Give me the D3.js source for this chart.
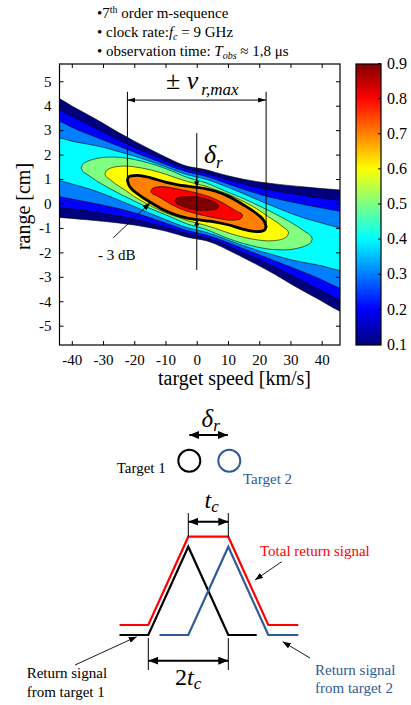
<!DOCTYPE html>
<html>
<head>
<meta charset="utf-8">
<script src="https://cdn.jsdelivr.net/npm/d3@7"></script>
<style>
  html, body { margin: 0; padding: 0; background: #fff; }
  svg { display: block; font-family: "Liberation Serif", "Times New Roman", serif; }
</style>
</head>
<body>
<svg id="chart" width="411" height="705"></svg>
<script>
// ---------- data ----------
const speedTicks = [-40, -30, -20, -10, 0, 10, 20, 30, 40];
const rangeTicks = [-5, -4, -3, -2, -1, 0, 1, 2, 3, 4, 5];
const colorTicks = [0.1, 0.2, 0.3, 0.4, 0.5, 0.6, 0.7, 0.8, 0.9];

// contour cross sections: for each speed [km/s], upper and lower range [cm] of the level
const bandSpeeds = [-47, -44, -40, -35, -30, -25, -20, -15, -10, -6, -3, 0, 3, 6, 10, 15, 20, 25, 30, 35, 40, 44, 47];
const top01 = [4.47, 4.29, 3.99, 3.64, 3.28, 2.9, 2.55, 2.22, 1.9, 1.66, 1.52, 1.45, 1.38, 1.27, 1.13, 0.99, 0.88, 0.8, 0.73, 0.67, 0.61, 0.57, 0.54];
const bottom01 = [-0.54, -0.57, -0.61, -0.67, -0.73, -0.8, -0.88, -0.99, -1.13, -1.27, -1.38, -1.45, -1.52, -1.66, -1.9, -2.22, -2.55, -2.9, -3.28, -3.64, -3.99, -4.29, -4.47];
const top02 = [4.0, 3.84, 3.57, 3.24, 2.92, 2.6, 2.3, 2.02, 1.74, 1.53, 1.4, 1.32, 1.24, 1.12, 0.97, 0.8, 0.64, 0.52, 0.41, 0.31, 0.22, 0.16, 0.12];
const bottom02 = [-0.12, -0.16, -0.22, -0.31, -0.41, -0.52, -0.64, -0.8, -0.97, -1.12, -1.24, -1.32, -1.4, -1.53, -1.74, -2.02, -2.3, -2.6, -2.92, -3.24, -3.57, -3.84, -4.0];
const top03 = [3.52, 3.37, 3.12, 2.85, 2.6, 2.35, 2.1, 1.85, 1.6, 1.41, 1.29, 1.2, 1.11, 0.98, 0.8, 0.58, 0.38, 0.21, 0.07, -0.06, -0.18, -0.28, -0.34];
const bottom03 = [0.34, 0.28, 0.18, 0.06, -0.07, -0.21, -0.38, -0.58, -0.8, -0.98, -1.11, -1.2, -1.29, -1.41, -1.6, -1.85, -2.1, -2.35, -2.6, -2.85, -3.12, -3.37, -3.52];
const top04 = [2.78, 2.69, 2.55, 2.43, 2.3, 2.12, 1.94, 1.73, 1.5, 1.3, 1.18, 1.08, 0.99, 0.86, 0.66, 0.4, 0.12, -0.14, -0.4, -0.62, -0.8, -0.94, -1.02];
const bottom04 = [1.02, 0.94, 0.8, 0.62, 0.4, 0.14, -0.12, -0.4, -0.66, -0.86, -0.99, -1.08, -1.18, -1.3, -1.5, -1.73, -1.94, -2.12, -2.3, -2.43, -2.55, -2.69, -2.78];

const speeds05 = [-37, -36.5, -35, -32, -28, -24, -20, -15, -10, -6, -3, 0, 3, 6, 10, 15, 20, 24, 28, 32, 35, 36.5, 37];
const top05 = [1.45, 1.6, 1.72, 1.84, 1.9, 1.88, 1.8, 1.64, 1.43, 1.22, 1.06, 0.95, 0.84, 0.68, 0.46, 0.2, -0.1, -0.35, -0.62, -0.92, -1.18, -1.32, -1.45];
const bottom05 = [1.45, 1.32, 1.18, 0.92, 0.62, 0.35, 0.1, -0.2, -0.46, -0.68, -0.84, -0.95, -1.06, -1.22, -1.43, -1.64, -1.8, -1.88, -1.9, -1.84, -1.72, -1.6, -1.45];

const speeds06 = [-29.4, -29, -28, -26, -23, -20, -15, -10, -6, -3, 0, 3, 6, 10, 15, 20, 23, 26, 28, 29, 29.4];
const top06 = [1.2, 1.33, 1.42, 1.5, 1.53, 1.5, 1.38, 1.2, 1.02, 0.9, 0.8, 0.7, 0.56, 0.38, 0.08, -0.28, -0.55, -0.8, -1.0, -1.1, -1.2];
const bottom06 = [1.2, 1.1, 1.0, 0.8, 0.55, 0.28, -0.08, -0.38, -0.56, -0.7, -0.8, -0.9, -1.02, -1.2, -1.38, -1.5, -1.53, -1.5, -1.42, -1.33, -1.2];

// -3 dB contour
const speeds07 = [-22.2, -21.8, -21, -19, -15, -10, -6, -3, 0, 3, 6, 10, 15, 19, 21, 21.8, 22.2];
const top07 = [0.95, 1.08, 1.13, 1.15, 1.06, 0.87, 0.76, 0.71, 0.66, 0.6, 0.5, 0.3, -0.06, -0.4, -0.62, -0.78, -0.95];
const bottom07 = [0.95, 0.78, 0.62, 0.4, 0.06, -0.3, -0.5, -0.6, -0.66, -0.71, -0.76, -0.87, -1.06, -1.15, -1.13, -1.08, -0.95];

const speeds08 = [-14.7, -14.3, -13, -11, -8, -4, 0, 4, 8, 11, 13, 14.3, 14.7];
const top08 = [0.48, 0.6, 0.67, 0.69, 0.64, 0.54, 0.43, 0.28, 0.05, -0.18, -0.33, -0.41, -0.48];
const bottom08 = [0.48, 0.41, 0.33, 0.18, -0.05, -0.28, -0.43, -0.54, -0.64, -0.69, -0.67, -0.6, -0.48];

const speeds09 = [-7, -6.6, -5.3, -3, 0, 3, 5.3, 6.6, 7];
const top09 = [0.1, 0.2, 0.26, 0.28, 0.27, 0.18, 0.08, -0.02, -0.1];
const bottom09 = [0.1, 0.02, -0.08, -0.18, -0.27, -0.28, -0.26, -0.2, -0.1];

const vrMax = 22.2;          // km/s, ends of the -3 dB contour

// schematic: time in chip durations t_c, amplitude normalised
const echo1Time = [-0.72, 0, 1, 2, 2.71];
const echo1Amp = [0, 0, 1, 0, 0];
const echo2Time = [0.28, 1, 2, 3, 3.75];
const echo2Amp = [0, 0, 1, 0, 0];
const totalTime = [-0.72, 0, 1, 2, 3, 3.75];
const totalAmp = [0, 0, 1, 1, 0, 0];
const targetPos = [1, 2];

const contours = [
    { level: 0.1, speed: bandSpeeds, top: top01, bottom: bottom01 },
    { level: 0.2, speed: bandSpeeds, top: top02, bottom: bottom02 },
    { level: 0.3, speed: bandSpeeds, top: top03, bottom: bottom03 },
    { level: 0.4, speed: bandSpeeds, top: top04, bottom: bottom04 },
    { level: 0.5, speed: speeds05, top: top05, bottom: bottom05 },
    { level: 0.6, speed: speeds06, top: top06, bottom: bottom06 },
    { level: 0.7, speed: speeds07, top: top07, bottom: bottom07 },
    { level: 0.8, speed: speeds08, top: top08, bottom: bottom08 },
    { level: 0.9, speed: speeds09, top: top09, bottom: bottom09 }
];

// ---------- setup ----------
const svg = d3.select("#chart");
const plot = { left: 59.5, top: 64, right: 340, bottom: 345 };
const blue = "#2f5b96";

const x = d3.scaleLinear().domain([-43.94, 45.86]).range([plot.left, plot.right]);
const y = d3.scaleLinear().domain([-5.79, 5.706]).range([plot.bottom, plot.top]);

// MATLAB jet colormap over [0.1, 0.9]
const jet = d3.scaleLinear()
    .domain([0, 0.125, 0.375, 0.625, 0.875, 1])
    .range(["#00007f", "#0000ff", "#00ffff", "#ffff00", "#ff0000", "#7f0000"])
    .clamp(true);
const colorOf = v => jet((v - 0.1) / 0.8);

const defs = svg.append("defs");
function addArrow(id, len, wid) {
    defs.append("marker")
        .attr("id", id)
        .attr("viewBox", "0 0 10 10")
        .attr("refX", 10)
        .attr("refY", 5)
        .attr("markerWidth", len)
        .attr("markerHeight", wid)
        .attr("markerUnits", "userSpaceOnUse")
        .attr("preserveAspectRatio", "none")
        .attr("orient", "auto-start-reverse")
        .append("path")
        .attr("d", "M0,0L10,5L0,10Z")
        .attr("fill", "#000");
}
addArrow("arrS", 6, 5);
addArrow("arrM", 8, 5);
addArrow("arrL", 10, 8);
addArrow("arrP", 8, 6);

defs.append("clipPath").attr("id", "plotClip")
    .append("rect")
    .attr("x", plot.left).attr("y", plot.top)
    .attr("width", plot.right - plot.left).attr("height", plot.bottom - plot.top);

// ---------- header notes ----------
const notes = svg.append("g").attr("font-size", 15).attr("fill", "#000");
const n1 = notes.append("text").attr("x", 97).attr("y", 17.5);
n1.append("tspan").text("\u20227");
n1.append("tspan").attr("font-size", 10).attr("dy", -5).text("th");
n1.append("tspan").attr("dy", 5).text(" order m-sequence");
const n2 = notes.append("text").attr("x", 97).attr("y", 37);
n2.append("tspan").text("\u2022 clock rate:");
n2.append("tspan").attr("font-style", "italic").text("f");
n2.append("tspan").attr("font-style", "italic").attr("font-size", 10).attr("dy", 3).text("c");
n2.append("tspan").attr("dy", -3).text(" = 9 GHz");
const n3 = notes.append("text").attr("x", 97).attr("y", 56);
n3.append("tspan").text("\u2022 observation time: ");
n3.append("tspan").attr("font-style", "italic").text("T");
n3.append("tspan").attr("font-style", "italic").attr("font-size", 10).attr("dy", 3).text("obs");
n3.append("tspan").attr("dy", -3).text(" \u2248 1,8 \u03bcs");

// ---------- contour plot ----------
const area = d3.area()
    .x(d => x(d.s))
    .y0(d => y(d.b))
    .y1(d => y(d.t))
    .curve(d3.curveMonotoneX);
const rows = c => c.speed.map((s, i) => ({ s: s, t: c.top[i], b: c.bottom[i] }));

const field = svg.append("g").attr("clip-path", "url(#plotClip)");
field.selectAll("path.fill")
    .data(contours)
    .join("path")
    .attr("class", "fill")
    .attr("d", c => area(rows(c)))
    .attr("fill", c => colorOf(c.level))
    .attr("stroke", "none");
field.selectAll("path.line")
    .data(contours)
    .join("path")
    .attr("class", "line")
    .attr("d", c => area(rows(c)))
    .attr("fill", "none")
    .attr("stroke", "#000")
    .attr("stroke-width", c => c.level === 0.7 ? 2.8 : 0.6);

// axes (ticks inside, MATLAB style)
const fmt = d => String(d);
const styleAxis = g => {
    g.select(".domain").remove();
    g.selectAll("line").attr("stroke", "#000");
    g.selectAll("text").attr("font-family", "Liberation Serif").attr("font-size", 15).attr("fill", "#000");
};
svg.append("g")
    .attr("transform", `translate(0,${plot.bottom})`)
    .call(d3.axisBottom(x).tickValues(speedTicks).tickFormat(fmt).tickSizeInner(-4).tickSizeOuter(0).tickPadding(9))
    .call(styleAxis);
svg.append("g")
    .attr("transform", `translate(0,${plot.top})`)
    .call(d3.axisTop(x).tickValues(speedTicks).tickFormat("").tickSizeInner(-4).tickSizeOuter(0))
    .call(styleAxis);
svg.append("g")
    .attr("transform", `translate(${plot.left},0)`)
    .call(d3.axisLeft(y).tickValues(rangeTicks).tickFormat(fmt).tickSizeInner(-4).tickSizeOuter(0).tickPadding(8))
    .call(styleAxis);
svg.append("g")
    .attr("transform", `translate(${plot.right},0)`)
    .call(d3.axisRight(y).tickValues(rangeTicks).tickFormat("").tickSizeInner(-4).tickSizeOuter(0))
    .call(styleAxis);

svg.append("rect")
    .attr("x", plot.left).attr("y", plot.top)
    .attr("width", plot.right - plot.left).attr("height", plot.bottom - plot.top)
    .attr("fill", "none").attr("stroke", "#000").attr("stroke-width", 1.2);

svg.append("text")
    .attr("x", 234.5).attr("y", 385)
    .attr("text-anchor", "middle").attr("font-size", 20)
    .text("target speed [km/s]");
svg.append("text")
    .attr("transform", `translate(29.5,${(plot.top + plot.bottom) / 2 + 2}) rotate(-90)`)
    .attr("text-anchor", "middle").attr("font-size", 20)
    .text("range [cm]");

// colorbar
const cb = d3.scaleLinear().domain([0.1, 0.9]).range([344, 63]);
const grad = defs.append("linearGradient").attr("id", "jetGrad")
    .attr("x1", 0).attr("y1", 1).attr("x2", 0).attr("y2", 0);
d3.range(0, 1.0001, 0.025).forEach(o => {
    grad.append("stop")
        .attr("offset", o)
        .attr("stop-color", colorOf(cb.invert(plot.bottom - o * (plot.bottom - plot.top))));
});
svg.append("rect")
    .attr("x", 356).attr("y", plot.top).attr("width", 25).attr("height", plot.bottom - plot.top)
    .attr("fill", "url(#jetGrad)").attr("stroke", "#000").attr("stroke-width", 1.2);
svg.append("g")
    .attr("transform", "translate(381,0)")
    .call(d3.axisRight(cb).tickValues(colorTicks).tickFormat(d3.format(".1f")).tickSizeInner(-3).tickSizeOuter(0).tickPadding(6))
    .call(styleAxis)
    .call(g => g.selectAll("text").attr("font-size", 16));

// annotations inside the plot
const ann = svg.append("g").attr("stroke", "#000").attr("fill", "none");
const vTop = 4.57, vArrow = 4.23;
ann.append("line")
    .attr("x1", x(-vrMax)).attr("x2", x(-vrMax))
    .attr("y1", y(vTop)).attr("y2", y(top07[0]));
ann.append("line")
    .attr("x1", x(vrMax)).attr("x2", x(vrMax))
    .attr("y1", y(vTop)).attr("y2", y(top07[top07.length - 1]));
ann.append("line")
    .attr("x1", x(-vrMax)).attr("x2", x(vrMax))
    .attr("y1", y(vArrow)).attr("y2", y(vArrow))
    .attr("marker-start", "url(#arrM)").attr("marker-end", "url(#arrM)");

const i0 = speeds07.indexOf(0);
ann.append("line")
    .attr("x1", x(0)).attr("x2", x(0))
    .attr("y1", y(2.88)).attr("y2", y(-2.72));
ann.append("line")
    .attr("x1", x(0)).attr("x2", x(0))
    .attr("y1", y(top07[i0] + 0.4)).attr("y2", y(top07[i0]))
    .attr("marker-end", "url(#arrS)");
ann.append("line")
    .attr("x1", x(0)).attr("x2", x(0))
    .attr("y1", y(bottom07[i0] - 0.4)).attr("y2", y(bottom07[i0]))
    .attr("marker-end", "url(#arrS)");

// -3 dB pointer
ann.append("line")
    .attr("x1", x(-26.7)).attr("y1", y(-1.4))
    .attr("x2", x(-14.9)).attr("y2", y(0.03))
    .attr("stroke-width", 0.9)
    .attr("marker-end", "url(#arrP)");

const vLab = svg.append("text").attr("x", 166).attr("y", 88.5).attr("font-size", 26);
vLab.append("tspan").text("\u00b1 ");
vLab.append("tspan").attr("font-style", "italic").text("v");
vLab.append("tspan").attr("font-style", "italic").attr("font-size", 17).attr("dx", 3).attr("dy", 6.5).text("r,max");

const dLab = svg.append("text").attr("x", 204).attr("y", 163).attr("font-size", 26);
dLab.append("tspan").attr("font-style", "italic").text("\u03b4");
dLab.append("tspan").attr("font-style", "italic").attr("font-size", 17).attr("dy", 5).text("r");

svg.append("text").attr("x", 98).attr("y", 260).attr("font-size", 15).text("- 3 dB");

// ---------- schematic ----------
const t = d3.scaleLinear().domain([0, 1]).range([148.3, 188.3]);
const amp = d3.scaleLinear().domain([0, 1]).range([635, 546.7]);
const sigLine = d3.line().x(d => t(d[0])).y(d => amp(d[1]));
const pairs = (ts, as) => ts.map((v, i) => [v, as[i]]);

const sch = svg.append("g");
sch.append("path").attr("d", sigLine(pairs(totalTime, totalAmp)))
    .attr("transform", "translate(0,-10)")
    .attr("fill", "none").attr("stroke", "#ff0000").attr("stroke-width", 2.2);
sch.append("path").attr("d", sigLine(pairs(echo1Time, echo1Amp)))
    .attr("fill", "none").attr("stroke", "#000").attr("stroke-width", 2.2);
sch.append("path").attr("d", sigLine(pairs(echo2Time, echo2Amp)))
    .attr("fill", "none").attr("stroke", blue).attr("stroke-width", 2.2);

// targets
const circleY = 460.7;
sch.selectAll("circle")
    .data(targetPos)
    .join("circle")
    .attr("cx", d => t(d) + 1)
    .attr("cy", circleY)
    .attr("r", 11)
    .attr("fill", "none")
    .attr("stroke", (d, i) => i === 0 ? "#000" : blue)
    .attr("stroke-width", 2);
sch.append("line")
    .attr("x1", t(targetPos[0]) + 1).attr("x2", t(targetPos[1]) - 0.5)
    .attr("y1", 435).attr("y2", 435)
    .attr("stroke", "#000").attr("stroke-width", 2)
    .attr("marker-start", "url(#arrL)").attr("marker-end", "url(#arrL)");
const dr = sch.append("text").attr("x", 201.5).attr("y", 427).attr("font-size", 25);
dr.append("tspan").attr("font-style", "italic").text("\u03b4");
dr.append("tspan").attr("font-style", "italic").attr("font-size", 17).attr("dy", 4).text("r");
sch.append("text").attr("x", 116.7).attr("y", 473).attr("font-size", 15).text("Target 1");
sch.append("text").attr("x", 243).attr("y", 484).attr("font-size", 15).attr("fill", blue).text("Target 2");

// t_c marker
const tcTop = 513, tcArrow = 521.7;
[1, 2].forEach(v => {
    sch.append("line")
        .attr("x1", t(v)).attr("x2", t(v))
        .attr("y1", tcTop).attr("y2", amp(1) - 10)
        .attr("stroke", "#000").attr("stroke-width", 1);
});
sch.append("line")
    .attr("x1", t(1)).attr("x2", t(2))
    .attr("y1", tcArrow).attr("y2", tcArrow)
    .attr("stroke", "#000").attr("stroke-width", 2)
    .attr("marker-start", "url(#arrL)").attr("marker-end", "url(#arrL)");
const tcLab = sch.append("text").attr("x", 204.5).attr("y", 508).attr("font-size", 24);
tcLab.append("tspan").attr("font-style", "italic").text("t");
tcLab.append("tspan").attr("font-style", "italic").attr("font-size", 17).attr("dy", 4).text("c");

// 2 t_c marker
const tc2Top = 638, tc2Bottom = 670, tc2Arrow = 660.7;
[0, 2].forEach(v => {
    sch.append("line")
        .attr("x1", t(v)).attr("x2", t(v))
        .attr("y1", tc2Top).attr("y2", tc2Bottom)
        .attr("stroke", "#000").attr("stroke-width", 1);
});
sch.append("line")
    .attr("x1", t(0)).attr("x2", t(2))
    .attr("y1", tc2Arrow).attr("y2", tc2Arrow)
    .attr("stroke", "#000").attr("stroke-width", 2)
    .attr("marker-start", "url(#arrL)").attr("marker-end", "url(#arrL)");
const tc2Lab = sch.append("text").attr("x", 175).attr("y", 685).attr("font-size", 24);
tc2Lab.append("tspan").text("2");
tc2Lab.append("tspan").attr("font-style", "italic").text("t");
tc2Lab.append("tspan").attr("font-style", "italic").attr("font-size", 17).attr("dy", 4).text("c");

// labels with pointers
sch.append("text").attr("x", 260).attr("y", 556).attr("font-size", 15).attr("fill", "#ff0000")
    .text("Total return signal");
sch.append("line").attr("x1", 281.7).attr("y1", 561.7).attr("x2", 255).attr("y2", 580)
    .attr("stroke", "#000").attr("stroke-width", 0.9).attr("marker-end", "url(#arrP)");

const r2 = sch.append("text").attr("font-size", 15).attr("fill", blue);
r2.append("tspan").attr("x", 315).attr("y", 675).text("Return signal");
r2.append("tspan").attr("x", 315).attr("y", 693).text("from target 2");
sch.append("line").attr("x1", 310).attr("y1", 658).attr("x2", 282.7).attr("y2", 641.7)
    .attr("stroke", "#000").attr("stroke-width", 0.9).attr("marker-end", "url(#arrP)");

const r1 = sch.append("text").attr("font-size", 15).attr("fill", "#000");
r1.append("tspan").attr("x", 26.7).attr("y", 678).text("Return signal");
r1.append("tspan").attr("x", 26.7).attr("y", 697).text("from target 1");
sch.append("line").attr("x1", 75).attr("y1", 665).attr("x2", 136.7).attr("y2", 636.7)
    .attr("stroke", "#000").attr("stroke-width", 0.9).attr("marker-end", "url(#arrP)");
</script>
</body>
</html>
